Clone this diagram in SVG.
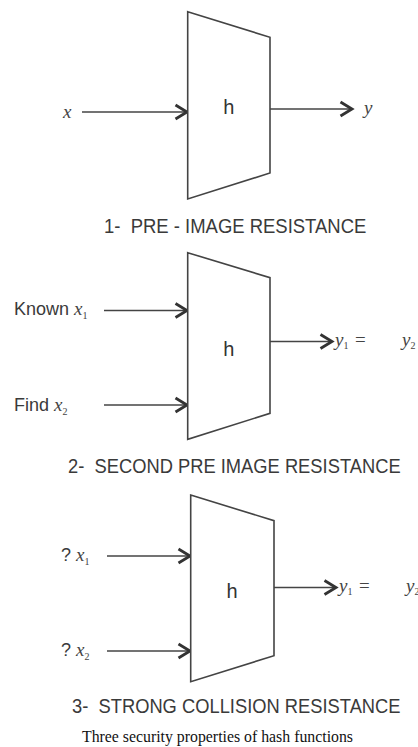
<svg xmlns="http://www.w3.org/2000/svg" width="418" height="747" viewBox="0 0 418 747">
<defs>
<style>
.box{fill:#fff;stroke:#444;stroke-width:1.6}
.ln{fill:none;stroke:#444;stroke-width:1.6}
.sans{font-family:"Liberation Sans",Arial,sans-serif;fill:#3a3a3a}
.h{font-family:"Liberation Sans",Arial,sans-serif;font-size:20px;fill:#333;text-anchor:middle}
.math{font-family:"Liberation Serif","Times New Roman",serif;font-style:italic;fill:#444;font-size:19px}
.sub{font-size:10px;font-style:normal}
.eq{font-family:"Liberation Serif","Times New Roman",serif;fill:#444;font-size:19px}
.title{font-family:"Liberation Sans",Arial,sans-serif;font-size:21px;fill:#3a3a3a;white-space:pre}
.cap{font-family:"Liberation Serif","Times New Roman",serif;font-size:16px;fill:#111}
</style>
<marker id="arr" markerUnits="userSpaceOnUse" markerWidth="16" markerHeight="18" viewBox="0 0 16 18" refX="13" refY="9" orient="auto" overflow="visible">
<path d="M1.5,2 L13,9 L1.5,16" fill="none" stroke="#333" stroke-width="2.8" stroke-linejoin="miter"/>
</marker>
</defs>
<g id="connectors">
<line class="ln" x1="82" y1="112" x2="187" y2="112" marker-end="url(#arr)"/>
<line class="ln" x1="270" y1="109" x2="352" y2="109" marker-end="url(#arr)"/>
<line class="ln" x1="104" y1="310.5" x2="187" y2="310.5" marker-end="url(#arr)"/>
<line class="ln" x1="104" y1="405" x2="187" y2="405" marker-end="url(#arr)"/>
<line class="ln" x1="270" y1="341.5" x2="332" y2="341.5" marker-end="url(#arr)"/>
<line class="ln" x1="107" y1="556" x2="190" y2="556" marker-end="url(#arr)"/>
<line class="ln" x1="107" y1="651" x2="190" y2="651" marker-end="url(#arr)"/>
<line class="ln" x1="274" y1="587.5" x2="336" y2="587.5" marker-end="url(#arr)"/>
</g>
<g id="h1">
<polygon class="box" points="187.7,11.7 270,37.3 270,173 187.7,199"/>
<text class="h" x="228.7" y="114">h</text>
</g>
<g id="h2">
<polygon class="box" points="187.7,252.7 270,277.7 270,413.3 187.7,439.3"/>
<text class="h" x="228.7" y="356">h</text>
</g>
<g id="h3">
<polygon class="box" points="190.7,495 274,520.7 274,655.7 190.7,681.7"/>
<text class="h" x="232" y="598">h</text>
</g>
<g id="labels1">
<text class="math" x="63" y="118">x</text>
<text class="math" x="364" y="114">y</text>
</g>
<g id="labels2">
<text class="sans" x="14" y="315" font-size="18">Known <tspan class="math">x</tspan><tspan class="math sub" dy="4">1</tspan></text>
<text class="sans" x="14" y="410.5" font-size="18">Find <tspan class="math">x</tspan><tspan class="math sub" dy="4">2</tspan></text>
<text class="math" x="335" y="346">y<tspan class="sub" dy="3">1</tspan></text>
<text class="eq" x="355" y="346">=</text>
<text class="math" x="402" y="346">y<tspan class="sub" dy="3">2</tspan></text>
</g>
<g id="labels3">
<text class="sans" x="61" y="561" font-size="18">? <tspan class="math">x</tspan><tspan class="math sub" dy="4">1</tspan></text>
<text class="sans" x="61" y="656" font-size="18">? <tspan class="math">x</tspan><tspan class="math sub" dy="4">2</tspan></text>
<text class="math" x="339" y="592">y<tspan class="sub" dy="3">1</tspan></text>
<text class="eq" x="359" y="592">=</text>
<text class="math" x="406" y="592">y<tspan class="sub" dy="3">2</tspan></text>
</g>
<g id="titles">
<text class="title" xml:space="preserve" transform="translate(104,233) scale(0.88,1)">1-  PRE - IMAGE RESISTANCE</text>
<text class="title" xml:space="preserve" transform="translate(68,473) scale(0.873,1)">2-  SECOND PRE IMAGE RESISTANCE</text>
<text class="title" xml:space="preserve" transform="translate(72,713) scale(0.873,1)">3-  STRONG COLLISION RESISTANCE</text>
<text class="cap" x="82" y="741.5" textLength="271" lengthAdjust="spacingAndGlyphs">Three security properties of hash functions</text>
</g>
</svg>
